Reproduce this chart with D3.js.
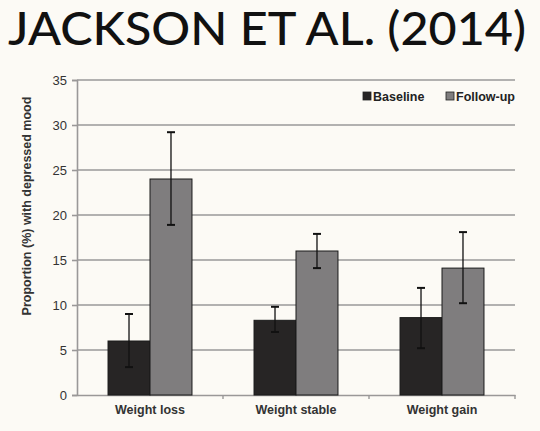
<!DOCTYPE html>
<html>
<head>
<meta charset="utf-8">
<script src="https://cdn.jsdelivr.net/npm/d3@7"></script>
<style>
  html, body { margin: 0; padding: 0; background: #fcfaf5; }
  svg { display: block; }
</style>
</head>
<body>
<div id="chart"></div>
<script>
'use strict';

var categories = ['Weight loss', 'Weight stable', 'Weight gain'];
var seriesNames = ['Baseline', 'Follow-up'];
var baseline = [6.0, 8.3, 8.6];
var baselineLow = [3.1, 7.0, 5.2];
var baselineHigh = [9.0, 9.8, 11.9];
var followUp = [24.0, 16.0, 14.1];
var followUpLow = [18.9, 14.1, 10.2];
var followUpHigh = [29.2, 17.9, 18.1];
var yTicks = [0, 5, 10, 15, 20, 25, 30, 35];

var width = 540, height = 431;
var margin = {top: 80, right: 25, bottom: 36, left: 77};
var colors = {'Baseline': '#272525', 'Follow-up': '#7f7d7e'};

var svg = d3.select('#chart').append('svg')
  .attr('width', width)
  .attr('height', height)
  .style('font-family', 'Liberation Sans, Arial, sans-serif');

svg.append('rect')
  .attr('width', width)
  .attr('height', height)
  .attr('fill', '#fcfaf5');

// title
svg.append('text')
  .attr('x', 8)
  .attr('y', 45)
  .attr('textLength', 518)
  .attr('lengthAdjust', 'spacingAndGlyphs')
  .style('font-family', 'Lato, Open Sans, sans-serif')
  .style('font-size', '46px')
  .style('font-weight', 500)
  .attr('fill', '#111')
  .text('JACKSON ET AL. (2014)');

var innerW = width - margin.left - margin.right;
var innerH = height - margin.top - margin.bottom;

var g = svg.append('g')
  .attr('transform', 'translate(' + margin.left + ',' + margin.top + ')');

var x0 = d3.scaleBand()
  .domain(categories)
  .range([0, innerW])
  .paddingInner(0.425)
  .paddingOuter(0.2125);

var x1 = d3.scaleBand()
  .domain(seriesNames)
  .range([0, x0.bandwidth()]);

var y = d3.scaleLinear()
  .domain([0, 35])
  .range([innerH, 0]);

// gridlines
g.append('g')
  .selectAll('line')
  .data(yTicks.slice(1))
  .enter().append('line')
  .attr('x1', 0)
  .attr('x2', innerW)
  .attr('y1', function(d) { return y(d); })
  .attr('y2', function(d) { return y(d); })
  .attr('stroke', '#9a9898')
  .attr('stroke-width', 1.6);

// y axis
var yAxis = g.append('g')
  .call(d3.axisLeft(y).tickValues(yTicks).tickSize(5).tickPadding(5));
yAxis.select('.domain').attr('stroke', '#9a9898').attr('stroke-width', 1.6);
yAxis.selectAll('.tick line').attr('stroke', '#9a9898').attr('stroke-width', 1.6);
yAxis.selectAll('text')
  .style('font-size', '13px')
  .attr('fill', '#333');

// x axis
var xAxis = g.append('g')
  .attr('transform', 'translate(0,' + innerH + ')')
  .call(d3.axisBottom(x0).tickSize(0).tickPadding(10));
xAxis.select('.domain').attr('stroke', '#9a9898').attr('stroke-width', 1.6);
xAxis.selectAll('text')
  .style('font-size', '12.5px')
  .style('font-weight', 'bold')
  .attr('fill', '#333');

// small boundary ticks between categories
var step = x0.step();
g.append('g')
  .selectAll('line')
  .data([1, 2, 3])
  .enter().append('line')
  .attr('x1', function(d) { return d * step; })
  .attr('x2', function(d) { return d * step; })
  .attr('y1', innerH)
  .attr('y2', innerH + 4)
  .attr('stroke', '#9a9898')
  .attr('stroke-width', 1.4);

var rows = categories.map(function(c, i) {
  return {
    cat: c,
    values: [
      {key: 'Baseline', v: baseline[i], lo: baselineLow[i], hi: baselineHigh[i]},
      {key: 'Follow-up', v: followUp[i], lo: followUpLow[i], hi: followUpHigh[i]}
    ]
  };
});

var groups = g.selectAll('.grp')
  .data(rows)
  .enter().append('g')
  .attr('class', 'grp')
  .attr('transform', function(d) { return 'translate(' + x0(d.cat) + ',0)'; });

groups.selectAll('rect')
  .data(function(d) { return d.values; })
  .enter().append('rect')
  .attr('x', function(d) { return x1(d.key); })
  .attr('y', function(d) { return y(d.v); })
  .attr('width', x1.bandwidth())
  .attr('height', function(d) { return innerH - y(d.v); })
  .attr('fill', function(d) { return colors[d.key]; })
  .attr('stroke', '#1a1a1a')
  .attr('stroke-width', 1);

// error bars
var cap = 4;
var err = groups.selectAll('.err')
  .data(function(d) { return d.values; })
  .enter().append('g')
  .attr('class', 'err')
  .attr('stroke', '#111')
  .attr('stroke-width', 1.3);

err.append('line')
  .attr('x1', function(d) { return x1(d.key) + x1.bandwidth() / 2; })
  .attr('x2', function(d) { return x1(d.key) + x1.bandwidth() / 2; })
  .attr('y1', function(d) { return y(d.lo); })
  .attr('y2', function(d) { return y(d.hi); });
err.append('line')
  .attr('x1', function(d) { return x1(d.key) + x1.bandwidth() / 2 - cap; })
  .attr('x2', function(d) { return x1(d.key) + x1.bandwidth() / 2 + cap; })
  .attr('y1', function(d) { return y(d.hi); })
  .attr('y2', function(d) { return y(d.hi); })
  .attr('stroke-width', 2);
err.append('line')
  .attr('x1', function(d) { return x1(d.key) + x1.bandwidth() / 2 - cap; })
  .attr('x2', function(d) { return x1(d.key) + x1.bandwidth() / 2 + cap; })
  .attr('y1', function(d) { return y(d.lo); })
  .attr('y2', function(d) { return y(d.lo); })
  .attr('stroke-width', 2);

// y axis title
svg.append('text')
  .attr('transform', 'translate(31,206) rotate(-90)')
  .attr('text-anchor', 'middle')
  .style('font-size', '12.5px')
  .style('font-weight', 'bold')
  .attr('fill', '#333')
  .text('Proportion (%) with depressed mood');

// legend
var legend = svg.append('g').attr('transform', 'translate(363,97)');
var legendX = [0, 83];
seriesNames.forEach(function(name, i) {
  var lg = legend.append('g').attr('transform', 'translate(' + legendX[i] + ',0)');
  lg.append('rect')
    .attr('x', 0)
    .attr('y', -5)
    .attr('width', 8)
    .attr('height', 8)
    .attr('fill', colors[name])
    .attr('stroke', '#222')
    .attr('stroke-width', 0.8);
  lg.append('text')
    .attr('x', 10)
    .attr('y', 4)
    .style('font-size', '12.5px')
    .style('font-weight', 'bold')
    .attr('fill', '#222')
    .text(name);
});
</script>
</body>
</html>
